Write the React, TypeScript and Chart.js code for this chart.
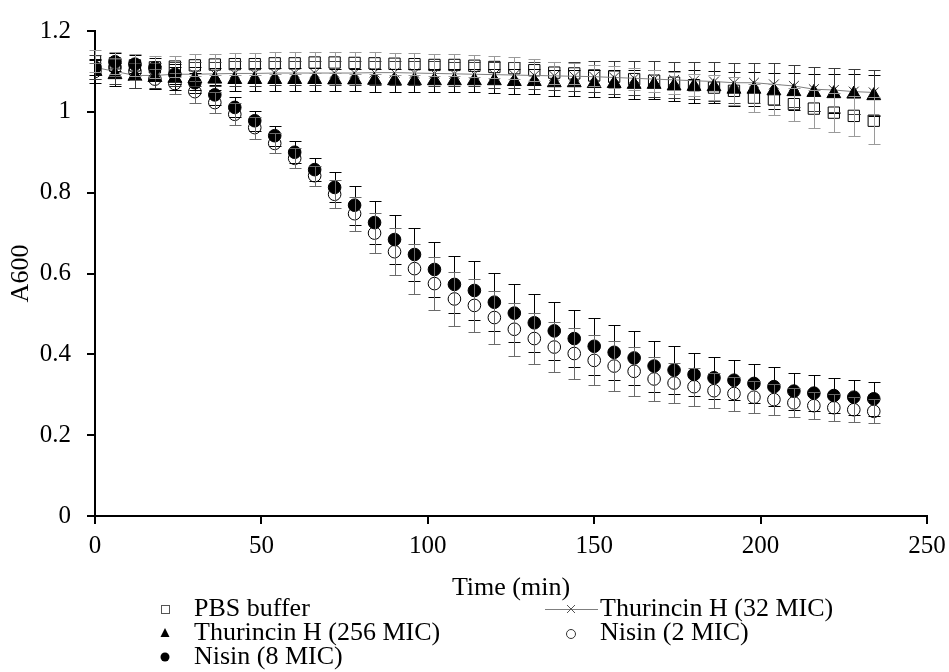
import React, { useEffect, useRef } from "react";
import { Chart, registerables } from "chart.js";

Chart.register(...registerables);

// ---- data ----
const times = [0, 6, 12, 18, 24, 30, 36, 42, 48, 54, 60, 66, 72, 78, 84, 90, 96, 102, 108, 114, 120, 126, 132, 138, 144, 150, 156, 162, 168, 174, 180, 186, 192, 198, 204, 210, 216, 222, 228, 234];

const seriesNames = ["PBS buffer", "Thurincin H (32 MIC)", "Thurincin H (256 MIC)", "Nisin (2 MIC)", "Nisin (8 MIC)"];

const pbs = [1.125, 1.12, 1.115, 1.11, 1.112, 1.115, 1.117, 1.118, 1.118, 1.12, 1.12, 1.122, 1.122, 1.121, 1.12, 1.119, 1.118, 1.116, 1.116, 1.114, 1.111, 1.108, 1.103, 1.097, 1.095, 1.09, 1.087, 1.081, 1.077, 1.072, 1.066, 1.06, 1.052, 1.035, 1.031, 1.019, 1.008, 0.998, 0.99, 0.978];
const pbsErr = [0.027, 0.027, 0.027, 0.027, 0.027, 0.027, 0.027, 0.027, 0.027, 0.027, 0.027, 0.027, 0.027, 0.027, 0.027, 0.027, 0.027, 0.027, 0.027, 0.027, 0.027, 0.027, 0.027, 0.027, 0.027, 0.027, 0.027, 0.027, 0.027, 0.027, 0.028, 0.03, 0.035, 0.035, 0.039, 0.041, 0.047, 0.049, 0.05, 0.058];

const thur32 = [1.11, 1.1, 1.09, 1.09, 1.093, 1.093, 1.094, 1.095, 1.095, 1.096, 1.096, 1.096, 1.096, 1.096, 1.097, 1.097, 1.096, 1.095, 1.094, 1.093, 1.092, 1.091, 1.09, 1.089, 1.088, 1.087, 1.085, 1.083, 1.081, 1.079, 1.077, 1.075, 1.072, 1.072, 1.068, 1.064, 1.056, 1.054, 1.05, 1.048];
const thur32Err = [0.03, 0.03, 0.03, 0.03, 0.03, 0.03, 0.03, 0.03, 0.03, 0.03, 0.03, 0.03, 0.03, 0.03, 0.03, 0.03, 0.03, 0.03, 0.03, 0.03, 0.032, 0.032, 0.034, 0.035, 0.036, 0.038, 0.04, 0.042, 0.044, 0.045, 0.046, 0.048, 0.05, 0.05, 0.052, 0.052, 0.054, 0.055, 0.055, 0.056];

const thur256 = [1.1, 1.092, 1.088, 1.085, 1.083, 1.082, 1.081, 1.08, 1.08, 1.08, 1.08, 1.08, 1.079, 1.079, 1.078, 1.077, 1.077, 1.077, 1.077, 1.077, 1.077, 1.075, 1.075, 1.072, 1.072, 1.07, 1.07, 1.068, 1.068, 1.064, 1.063, 1.062, 1.056, 1.056, 1.052, 1.05, 1.048, 1.045, 1.044, 1.04];
const thur256Err = [0.028, 0.028, 0.028, 0.028, 0.028, 0.028, 0.028, 0.028, 0.028, 0.028, 0.028, 0.028, 0.028, 0.028, 0.028, 0.028, 0.028, 0.028, 0.028, 0.028, 0.03, 0.03, 0.03, 0.032, 0.032, 0.034, 0.034, 0.036, 0.036, 0.038, 0.04, 0.04, 0.042, 0.042, 0.044, 0.045, 0.046, 0.048, 0.05, 0.05];

const nisin2 = [1.1, 1.11, 1.1, 1.081, 1.07, 1.05, 1.023, 0.994, 0.961, 0.922, 0.885, 0.842, 0.796, 0.748, 0.7, 0.654, 0.612, 0.575, 0.537, 0.521, 0.491, 0.462, 0.439, 0.418, 0.402, 0.385, 0.371, 0.358, 0.339, 0.329, 0.32, 0.31, 0.303, 0.294, 0.288, 0.28, 0.273, 0.268, 0.263, 0.259];
const nisin2Err = [0.02, 0.022, 0.022, 0.025, 0.025, 0.027, 0.027, 0.027, 0.027, 0.025, 0.025, 0.025, 0.035, 0.042, 0.049, 0.058, 0.062, 0.066, 0.066, 0.066, 0.065, 0.065, 0.064, 0.062, 0.062, 0.062, 0.062, 0.06, 0.055, 0.05, 0.047, 0.044, 0.042, 0.04, 0.038, 0.036, 0.034, 0.033, 0.031, 0.03];

const nisin8 = [1.11, 1.124, 1.118, 1.109, 1.093, 1.072, 1.042, 1.011, 0.978, 0.941, 0.9, 0.857, 0.813, 0.769, 0.726, 0.684, 0.647, 0.61, 0.573, 0.558, 0.529, 0.502, 0.478, 0.458, 0.439, 0.42, 0.405, 0.391, 0.371, 0.361, 0.35, 0.342, 0.336, 0.328, 0.32, 0.309, 0.304, 0.298, 0.294, 0.29];
const nisin8Err = [0.02, 0.022, 0.022, 0.025, 0.025, 0.025, 0.025, 0.025, 0.025, 0.025, 0.027, 0.029, 0.037, 0.048, 0.053, 0.061, 0.065, 0.069, 0.071, 0.072, 0.072, 0.072, 0.072, 0.072, 0.071, 0.07, 0.068, 0.066, 0.063, 0.06, 0.054, 0.052, 0.05, 0.049, 0.048, 0.046, 0.045, 0.044, 0.043, 0.042];

const xTicks = [0, 50, 100, 150, 200, 250];
const yTicks = [0, 0.2, 0.4, 0.6, 0.8, 1, 1.2];

const FONT = "'Liberation Serif', 'Times New Roman', serif";

const errorsByDataset = [pbsErr, thur32Err, thur256Err, nisin2Err, nisin8Err];
const errorColors = ["#9a9a9a", "#3a3a3a", "#000000", "#6a6a6a", "#000000"];

const toPoints = (vals: number[]) => vals.map((v, i) => ({ x: times[i], y: v }));

const errorBarPlugin = {
  id: "errorBars",
  afterDatasetsDraw(chart: any) {
    const ctx = chart.ctx;
    const ys = chart.scales.y;
    ctx.save();
    ctx.lineWidth = 1;
    for (let i = chart.data.datasets.length - 1; i >= 0; i--) {
      const meta = chart.getDatasetMeta(i);
      const errs = errorsByDataset[i];
      const ds = chart.data.datasets[i];
      ctx.strokeStyle = errorColors[i];
      meta.data.forEach((pt: any, j: number) => {
        const v = ds.data[j].y;
        const e = errs[j];
        const top = Math.round(ys.getPixelForValue(v + e)) + 0.5;
        const bot = Math.round(ys.getPixelForValue(v - e)) + 0.5;
        const x = Math.round(pt.x) + 0.5;
        ctx.beginPath();
        ctx.moveTo(x, top);
        ctx.lineTo(x, bot);
        ctx.moveTo(x - 6, top);
        ctx.lineTo(x + 6, top);
        ctx.moveTo(x - 6, bot);
        ctx.lineTo(x + 6, bot);
        ctx.stroke();
      });
    }
    ctx.restore();
  },
};

const legendPlugin = {
  id: "customLegend",
  afterDraw(chart: any) {
    const ctx = chart.ctx;
    ctx.save();
    ctx.font = `26px ${FONT}`;
    ctx.fillStyle = "#000";
    ctx.textBaseline = "middle";
    ctx.textAlign = "left";
    const c1m = 165, c1t = 194, c2m = 571, c2t = 600;
    const r1 = 609, r2 = 633, r3 = 657;
    // PBS square
    ctx.strokeStyle = "#555";
    ctx.lineWidth = 1;
    ctx.strokeRect(c1m - 4 + 0.5, r1 - 4 + 0.5, 8, 8);
    ctx.fillText(seriesNames[0], c1t, r1);
    // Thurincin 32 line + x
    ctx.strokeStyle = "#7f7f7f";
    ctx.beginPath();
    ctx.moveTo(c2m - 26, r1 + 0.5);
    ctx.lineTo(c2m + 27, r1 + 0.5);
    ctx.stroke();
    ctx.strokeStyle = "#555";
    ctx.beginPath();
    ctx.moveTo(c2m - 4, r1 - 4);
    ctx.lineTo(c2m + 4, r1 + 4);
    ctx.moveTo(c2m - 4, r1 + 4);
    ctx.lineTo(c2m + 4, r1 - 4);
    ctx.stroke();
    ctx.fillText(seriesNames[1], c2t, r1);
    // Thurincin 256 triangle
    ctx.fillStyle = "#000";
    ctx.beginPath();
    ctx.moveTo(c1m, r2 - 5);
    ctx.lineTo(c1m + 4.5, r2 + 4);
    ctx.lineTo(c1m - 4.5, r2 + 4);
    ctx.closePath();
    ctx.fill();
    ctx.fillText(seriesNames[2], c1t, r2);
    // Nisin 2 open circle
    ctx.strokeStyle = "#333";
    ctx.beginPath();
    ctx.arc(c2m, r2 + 1, 4.5, 0, Math.PI * 2);
    ctx.stroke();
    ctx.fillText(seriesNames[3], c2t, r2);
    // Nisin 8 filled circle
    ctx.beginPath();
    ctx.arc(c1m, r3, 4.5, 0, Math.PI * 2);
    ctx.fill();
    ctx.fillText(seriesNames[4], c1t, r3);
    ctx.restore();
  },
};

export default function App() {
  const ref = useRef<HTMLCanvasElement | null>(null);

  useEffect(() => {
    if (!ref.current) return;
    Chart.defaults.font.family = FONT;
    Chart.defaults.color = "#000";
    const chart = new Chart(ref.current, {
      type: "scatter",
      data: {
        datasets: [
          {
            label: seriesNames[0],
            data: toPoints(pbs),
            showLine: false,
            pointStyle: "rect",
            pointRadius: 8,
            pointBackgroundColor: "rgba(0,0,0,0)",
            pointBorderColor: "#000",
            pointBorderWidth: 1,
            order: 5,
          },
          {
            label: seriesNames[1],
            data: toPoints(thur32),
            showLine: true,
            borderColor: "#7f7f7f",
            borderWidth: 1,
            pointStyle: "crossRot",
            pointRadius: 7,
            pointBackgroundColor: "rgba(0,0,0,0)",
            pointBorderColor: "#333",
            pointBorderWidth: 1,
            order: 4,
          },
          {
            label: seriesNames[2],
            data: toPoints(thur256),
            showLine: false,
            pointStyle: "triangle",
            pointRadius: 8,
            pointBackgroundColor: "#000",
            pointBorderColor: "#000",
            pointBorderWidth: 1,
            order: 3,
          },
          {
            label: seriesNames[3],
            data: toPoints(nisin2),
            showLine: false,
            pointStyle: "circle",
            pointRadius: 6.3,
            pointBackgroundColor: "rgba(255,255,255,0)",
            pointBorderColor: "#000",
            pointBorderWidth: 1,
            order: 2,
          },
          {
            label: seriesNames[4],
            data: toPoints(nisin8),
            showLine: false,
            pointStyle: "circle",
            pointRadius: 6.3,
            pointBackgroundColor: "#000",
            pointBorderColor: "#000",
            pointBorderWidth: 1,
            order: 1,
          },
        ],
      },
      options: {
        responsive: false,
        animation: false,
        events: [],
        layout: { padding: { left: 6, right: 22, top: 30, bottom: 0 } },
        plugins: {
          legend: { display: false },
          tooltip: { enabled: false },
        },
        scales: {
          x: {
            type: "linear",
            min: 0,
            max: 250,
            afterFit: (s: any) => {
              s.height = 156;
              s.paddingLeft = 0;
              s.paddingRight = 0;
            },
            afterBuildTicks: (s: any) => {
              s.ticks = xTicks.map((v) => ({ value: v }));
            },
            ticks: {
              font: { size: 25, family: FONT },
              color: "#000",
              padding: 7,
              maxRotation: 0,
              callback: (v: any) => String(v),
            },
            grid: {
              display: true,
              drawOnChartArea: false,
              drawTicks: true,
              tickLength: 8,
              color: "#000",
              lineWidth: 2,
            },
            border: { display: true, color: "#000", width: 2 },
            title: {
              display: true,
              text: "Time (min)",
              font: { size: 26, family: FONT },
              color: "#000",
              padding: { top: 0, bottom: 68 },
            },
          },
          y: {
            type: "linear",
            min: 0,
            max: 1.2,
            afterFit: (s: any) => {
              s.width = 89;
            },
            afterBuildTicks: (s: any) => {
              s.ticks = yTicks.map((v) => ({ value: v }));
            },
            ticks: {
              font: { size: 25, family: FONT },
              color: "#000",
              padding: 16,
              callback: (v: any) => String(Math.round(Number(v) * 10) / 10),
            },
            grid: {
              display: true,
              drawOnChartArea: false,
              drawTicks: true,
              tickLength: 8,
              color: "#000",
              lineWidth: 2,
            },
            border: { display: true, color: "#000", width: 2 },
            title: {
              display: true,
              text: "A600",
              font: { size: 26, family: FONT },
              color: "#000",
              padding: { top: 0, bottom: 0 },
            },
          },
        },
      },
      plugins: [errorBarPlugin, legendPlugin],
    } as any);
    return () => chart.destroy();
  }, []);

  return (
    <div style={{ position: "absolute", left: 0, top: 0, width: 949, height: 672, background: "#fff" }}>
      <canvas ref={ref} width={949} height={672} style={{ display: "block", width: 949, height: 672 }} />
    </div>
  );
}
